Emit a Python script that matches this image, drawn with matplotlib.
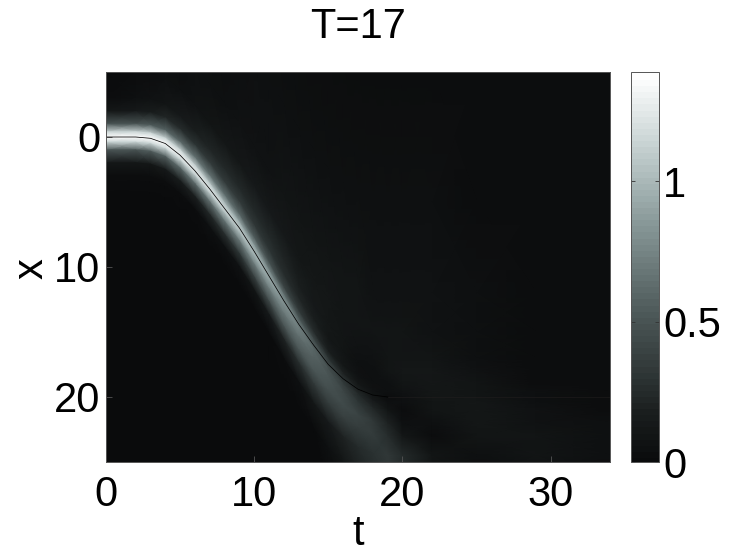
import matplotlib
matplotlib.use('Agg')
import matplotlib.pyplot as plt
import numpy as np
from matplotlib.colors import LinearSegmentedColormap

# time slices, and where the bright ridge sits at each of them
t_slices = [0, 2, 3, 4, 5, 6, 7, 8, 9, 10, 11, 12, 13, 14, 15, 16, 17, 18, 19, 20, 22, 25, 29, 34]
ridge_x = [0, 0, 0.1, 0.5, 1.4, 2.6, 4, 5.5, 7, 8.8, 10.7, 12.6, 14.4, 16, 17.5, 18.6, 19.4, 19.85,
           20, 20, 20, 20, 20, 20]

# distance from the ridge for each row of the table below
offsets = [-25, -15, -8, -5, -3, -2, -1, -0.4, 0, 0.4, 1, 2, 3, 4.5, 6.5, 9, 15, 25]

# one column of field values per time slice
u_columns = [
    [.02, .02, .02, .02, .04, .12, .50, 1.15, 1.39, 1.15, .50, .12, .04, .01, .01, .01, .01, .01],
    [.03, .03, .03, .03, .05, .14, .52, 1.15, 1.38, 1.15, .52, .12, .03, .01, .01, .01, .01, .01],
    [.03, .03, .03, .04, .07, .17, .55, 1.15, 1.37, 1.15, .55, .13, .03, .01, .01, .01, .01, .01],
    [.03, .03, .04, .05, .10, .22, .60, 1.15, 1.35, 1.13, .58, .14, .03, .01, .01, .01, .01, .01],
    [.03, .03, .04, .06, .14, .28, .65, 1.15, 1.32, 1.10, .60, .16, .03, .01, .01, .01, .01, .01],
    [.03, .03, .05, .08, .18, .32, .68, 1.12, 1.28, 1.08, .62, .18, .04, .01, .01, .01, .01, .01],
    [.03, .04, .05, .10, .22, .35, .68, 1.08, 1.24, 1.05, .65, .22, .05, .01, .01, .01, .01, .01],
    [.03, .04, .06, .12, .24, .36, .66, 1.02, 1.18, 1.02, .67, .27, .06, .01, .01, .01, .01, .01],
    [.03, .04, .07, .13, .25, .36, .62, .95, 1.10, .98, .68, .32, .08, .01, .01, .01, .01, .01],
    [.03, .05, .08, .14, .25, .34, .57, .87, 1.02, .94, .70, .38, .10, .01, .01, .01, .01, .01],
    [.03, .05, .08, .14, .24, .31, .50, .78, .92, .88, .70, .43, .14, .02, .01, .01, .01, .01],
    [.03, .05, .09, .14, .22, .28, .43, .68, .82, .80, .68, .48, .20, .03, .01, .01, .01, .01],
    [.03, .05, .09, .13, .18, .23, .35, .56, .70, .72, .65, .50, .27, .05, .01, .01, .01, .01],
    [.03, .05, .09, .12, .15, .18, .27, .44, .56, .60, .58, .50, .33, .12, .02, .01, .01, .01],
    [.03, .05, .09, .11, .12, .13, .18, .32, .42, .48, .50, .46, .36, .14, .05, .01, .01, .01],
    [.03, .05, .09, .10, .09, .09, .12, .20, .30, .36, .42, .44, .37, .20, .09, .02, .01, .01],
    [.03, .05, .09, .09, .07, .06, .08, .12, .18, .24, .32, .40, .36, .25, .18, .04, .01, .01],
    [.03, .05, .08, .09, .07, .05, .05, .07, .10, .14, .22, .33, .36, .30, .26, .06, .01, .01],
    [.03, .05, .08, .09, .09, .09, .06, .05, .04, .06, .10, .20, .27, .33, .30, .10, .01, .01],
    [.03, .05, .08, .09, .10, .11, .09, .07, .06, .05, .03, .05, .12, .26, .28, .10, .01, .01],
    [.03, .05, .07, .08, .09, .11, .12, .12, .11, .10, .09, .05, .04, .10, .10, .02, .01, .01],
    [.03, .04, .05, .05, .06, .07, .09, .10, .10, .11, .11, .11, .09, .05, .03, .02, .01, .01],
    [.03, .04, .04, .04, .04, .04, .04, .05, .05, .06, .07, .08, .09, .09, .05, .02, .01, .01],
    [.03, .03, .03, .03, .03, .03, .03, .03, .04, .04, .04, .05, .05, .06, .04, .02, .01, .01],
]

bar_ticks = [0, 0.5, 1]
bar_labels = ['0', '0.5', '1']
v_max = 1.39

plt.rcParams['font.family'] = ['Liberation Sans', 'DejaVu Sans']

bone_ish = LinearSegmentedColormap.from_list(
    'bone_ish',
    ['#0a0b0c', '#1a1e1e', '#333b3b', '#4b5656', '#6a7878', '#8a9a9a', '#b0bebe', '#d8e0e0', '#ffffff'],
    N=64)

T = np.array(t_slices, dtype=float)
R = np.array(ridge_x, dtype=float)
U = np.array(u_columns).T
TT = np.tile(T, (len(offsets), 1))
XX = R + np.array(offsets, dtype=float)[:, None]

fig = plt.figure(figsize=(7.53, 5.53), dpi=100)
W, H = 753.0, 553.0
ax = fig.add_axes([106/W, 1 - 462/H, 504/W, 390/H])
cax = fig.add_axes([631/W, 1 - 462/H, 28/W, 390/H])

mesh = ax.pcolormesh(TT, XX, U, shading='gouraud', cmap=bone_ish, vmin=0, vmax=v_max)

# thin dark line along the ridge, nearly invisible once it flattens out
n_dark = t_slices.index(19) + 1
ax.plot(T[:n_dark], R[:n_dark], color='#000000', lw=0.55)
ax.plot(T[n_dark - 1:], R[n_dark - 1:], color='#211e1e', lw=0.4)

ax.set_xlim(0, 34)
ax.set_ylim(25, -5)
ax.set_xticks([0, 10, 20, 30])
ax.set_yticks([0, 10, 20])
ax.tick_params(direction='in', length=4, width=0.6, color='#555555', labelsize=30)
ax.tick_params(axis='x', pad=9)
ax.tick_params(axis='y', pad=4)
for s in ax.spines.values():
    s.set_linewidth(0.7)
    s.set_color('#555555')

ax.set_xlabel('t', fontsize=30, va='baseline')
ax.set_ylabel('x', fontsize=30, va='baseline')
ax.xaxis.set_label_coords(0.5, -0.213)
ax.yaxis.set_label_coords(-0.125, 0.495)
fig.text(358/W, 1 - 27/H, 'T=17', fontsize=30, ha='center', va='center')

cb = fig.colorbar(mesh, cax=cax)
cb.solids.set_edgecolor('face')
cb.set_ticks(bar_ticks)
cb.set_ticklabels(bar_labels)
cax.tick_params(direction='in', length=3, width=0.6, color='#333333', labelsize=30, pad=3,
                left=True, right=True)
cb.outline.set_linewidth(0.7)
cb.outline.set_edgecolor('#555555')

fig.savefig('out.png', dpi=100)
